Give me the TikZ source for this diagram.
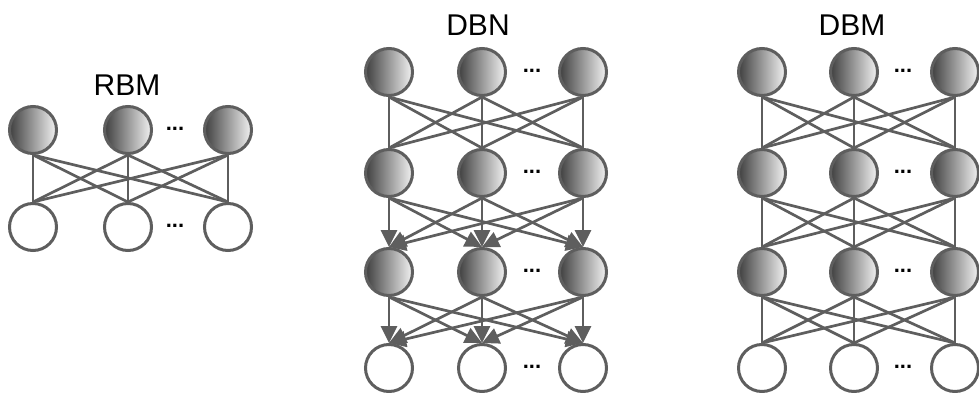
\documentclass[tikz,border=0pt]{standalone}
\usepackage{fontspec}
\setmainfont{Liberation Sans}
\usetikzlibrary{arrows.meta}
\definecolor{edgegray}{HTML}{5E5E5E}
\begin{document}
\begin{tikzpicture}[x=1pt, y=-1pt,
    unit/.style={circle, draw=edgegray, line width=3pt, minimum size=47pt, inner sep=0pt},
    hidden/.style={unit, left color=black!75, right color=black!5, shading angle=90},
    visible/.style={unit, fill=white},
    link/.style={draw=edgegray, line width=2.7pt},
    arrowlink/.style={link, -{Triangle[length=17pt, width=16pt]}},
    title/.style={font=\fontsize{30}{30}\selectfont},
    dots/.style={font=\fontsize{22}{22}\selectfont\bfseries, inner sep=0pt}]
\useasboundingbox (0,0) rectangle (979,393);
% RBM
\node[title] (rbmtitle) at (127,85) {RBM};
\foreach \i/\x in {1/33, 2/128, 3/228}{
    \node[hidden] (r1\i) at (\x,130) {};
    \node[visible] (r2\i) at (\x,227) {};
}
\node[dots] (rdots1) at (175,129) {...};
\node[dots] (rdots2) at (175,226) {...};
% Connections between layers
\foreach \i in {1,2,3}{
    \foreach \j in {1,2,3}{
        \draw[link] (r1\i.south) -- (r2\j.north);
    }
}
%%%
% DBN
\node[title] (dbntitle) at (478,25) {DBN};
\foreach \i/\x in {1/389, 2/482, 3/583}{
    \node[hidden] (n1\i) at (\x,72) {};
    \node[hidden] (n2\i) at (\x,173) {};
    \node[hidden] (n3\i) at (\x,272) {};
    \node[visible] (n4\i) at (\x,368) {};
}
\foreach \y/\py in {1/72, 2/173, 3/272, 4/368}{
    \node[dots] (ndots\y) at (532,\py-1) {...};
}
% Connections between layers
\foreach \i in {1,2,3}{
    \foreach \j in {1,2,3}{
        \draw[link] (n1\i.south) -- (n2\j.north);
        \draw[arrowlink] (n2\i.south) -- (n3\j.north);
        \draw[arrowlink] (n3\i.south) -- (n4\j.north);
    }
}
%%%
% DBM
\node[title] (dbmtitle) at (852,25) {DBM};
\foreach \i/\x in {1/762, 2/854, 3/955}{
    \node[hidden] (m1\i) at (\x,72) {};
    \node[hidden] (m2\i) at (\x,173) {};
    \node[hidden] (m3\i) at (\x,272) {};
    \node[visible] (m4\i) at (\x,368) {};
}
\foreach \y/\py in {1/72, 2/173, 3/272, 4/368}{
    \node[dots] (mdots\y) at (903,\py-1) {...};
}
% Connections between layers
\foreach \i in {1,2,3}{
    \foreach \j in {1,2,3}{
        \draw[link] (m1\i.south) -- (m2\j.north);
        \draw[link] (m2\i.south) -- (m3\j.north);
        \draw[link] (m3\i.south) -- (m4\j.north);
    }
}
%%%
\end{tikzpicture}
\end{document}
